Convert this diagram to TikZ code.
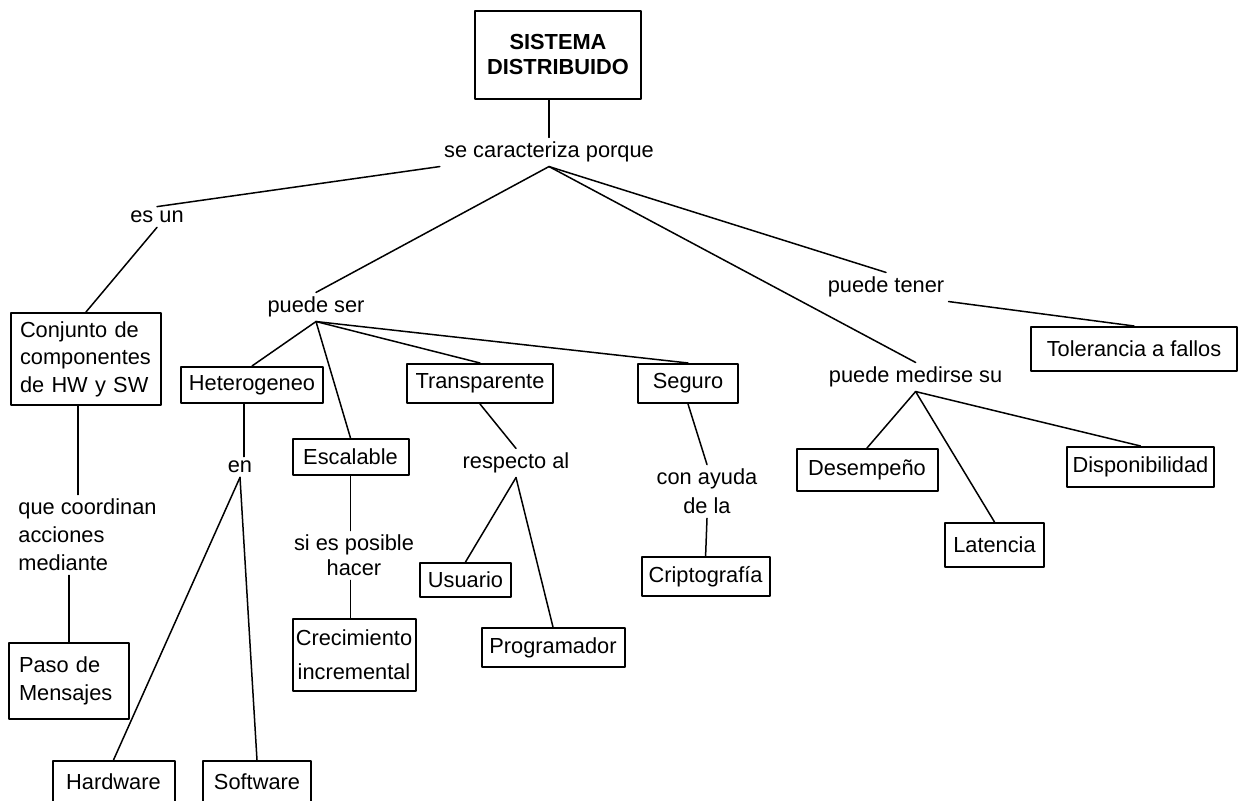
\documentclass[tikz,border=0pt]{standalone}
\usepackage{fontspec}
\setmainfont{Liberation Sans}

\begin{document}
\begin{tikzpicture}[line cap=round,line join=round,x=0.5pt,y=-0.5pt,
  box/.style={draw,line width=1pt,inner sep=0pt,font=\fontsize{10.9}{14}\selectfont},
  lbl/.style={inner sep=2pt,font=\fontsize{10.9}{14}\selectfont},
  conn/.style={line width=0.75pt}]
\useasboundingbox (0,0) rectangle (1238,801);
\clip (0,0) rectangle (1238,801);
\node[box,minimum width=83pt,minimum height=44pt,align=center,font=\bfseries\fontsize{10.9}{12.5}\selectfont] (sd) at (558,55) {SISTEMA\\DISTRIBUIDO};
\node[box,minimum width=75pt,minimum height=46pt,align=left,text width=66pt,inner xsep=4.5pt,font=\fontsize{10.9}{13.75}\selectfont] (conj) at (86,359) {Conjunto de\\componentes\\de HW y SW};
\node[box,minimum width=60pt,minimum height=38pt,align=left,text width=50pt,inner xsep=5pt] (paso) at (69,681) {Paso de\\Mensajes};
\node[box,minimum width=71pt,minimum height=18pt] (het) at (252,385) {Heterogeneo};
\node[box,minimum width=58pt,minimum height=18pt] (esc) at (350.5,457) {Escalable};
\node[box,minimum width=61.5pt,minimum height=36pt,align=center,font=\fontsize{10.9}{17}\selectfont] (crec) at (354,655) {Crecimiento\\incremental};
\node[box,minimum width=73pt,minimum height=19.5pt] (trans) at (480,383.5) {Transparente};
\node[box,minimum width=45.5pt,minimum height=17pt] (usu) at (465.5,580) {Usuario};
\node[box,minimum width=71.5pt,minimum height=19.5pt] (prog) at (553,647.5) {Programador};
\node[box,minimum width=50pt,minimum height=19.5pt] (seg) at (688,383.5) {Seguro};
\node[box,minimum width=64pt,minimum height=19.5pt] (cript) at (705.6,576.5) {Criptografía};
\node[box,minimum width=103pt,minimum height=22pt] (tol) at (1134,349) {Tolerancia a fallos};
\node[box,minimum width=70.5pt,minimum height=21pt] (des) at (867,470) {Desempeño};
\node[box,minimum width=49.5pt,minimum height=22pt] (lat) at (994.5,545) {Latencia};
\node[box,minimum width=73.5pt,minimum height=20pt] (disp) at (1140.5,467) {Disponibilidad};
\node[box,minimum width=61pt,minimum height=21pt] (hw) at (113.5,782) {Hardware};
\node[box,minimum width=54pt,minimum height=21pt] (sw) at (257,782) {Software};
\node[lbl] (car) at (549,152) {se caracteriza porque};
\node[lbl] (esun) at (157,217) {es un};
\node[lbl] (pser) at (316,307) {puede ser};
\node[lbl] (ptener) at (886,287) {puede tener};
\node[lbl] (pmed) at (915.6,377) {puede medirse su};
\node[lbl] (en) at (240,467) {en};
\node[lbl,align=left,anchor=west] (qcoord) at (14,535) {que coordinan\\acciones\\mediante};
\node[lbl,align=center,font=\fontsize{10.9}{12.5}\selectfont] (sies) at (354,555.5) {si es posible\\hacer};
\node[lbl] (resp) at (516,463) {respecto al};
\node[lbl,align=center,font=\fontsize{10.9}{14.5}\selectfont] (cayu) at (707,491.5) {con ayuda\\de la};
\draw[conn] (sd.south -| car.north) -- (car.north);
\draw[conn] (car.south west) -- (esun.north);
\draw[conn] (car.south) -- (pser.north);
\draw[conn] (car.south) -- (ptener.north);
\draw[conn] (car.south) -- (pmed.north);
\draw[conn] (ptener.south east) -- (tol.north);
\draw[conn] (esun.south) -- (conj.north);
\draw[conn] ([xshift=-4pt]conj.south) -- ([xshift=-4pt]conj.south |- qcoord.north);
\draw[conn] (qcoord.south -| paso.north) -- (paso.north);
\draw[conn] (pser.south) -- (het.north);
\draw[conn] (pser.south) -- (esc.north);
\draw[conn] (pser.south) -- (trans.north);
\draw[conn] (pser.south) -- (seg.north);
\draw[conn] ([xshift=-4pt]het.south) -- ([xshift=-4pt]het.south |- en.north);
\draw[conn] (en.south) -- (hw.north);
\draw[conn] (en.south) -- (sw.north);
\draw[conn] (esc.south) -- (sies.north -| esc.south);
\draw[conn] (sies.south -| esc.south) -- (crec.north -| esc.south);
\draw[conn] (trans.south) -- (resp.north);
\draw[conn] (resp.south) -- (usu.north);
\draw[conn] (resp.south) -- (prog.north);
\draw[conn] (seg.south) -- (cayu.north);
\draw[conn] (cayu.south) -- (cript.north);
\draw[conn] (pmed.south) -- (des.north);
\draw[conn] (pmed.south) -- (lat.north);
\draw[conn] (pmed.south) -- (disp.north);
\end{tikzpicture}
\end{document}
